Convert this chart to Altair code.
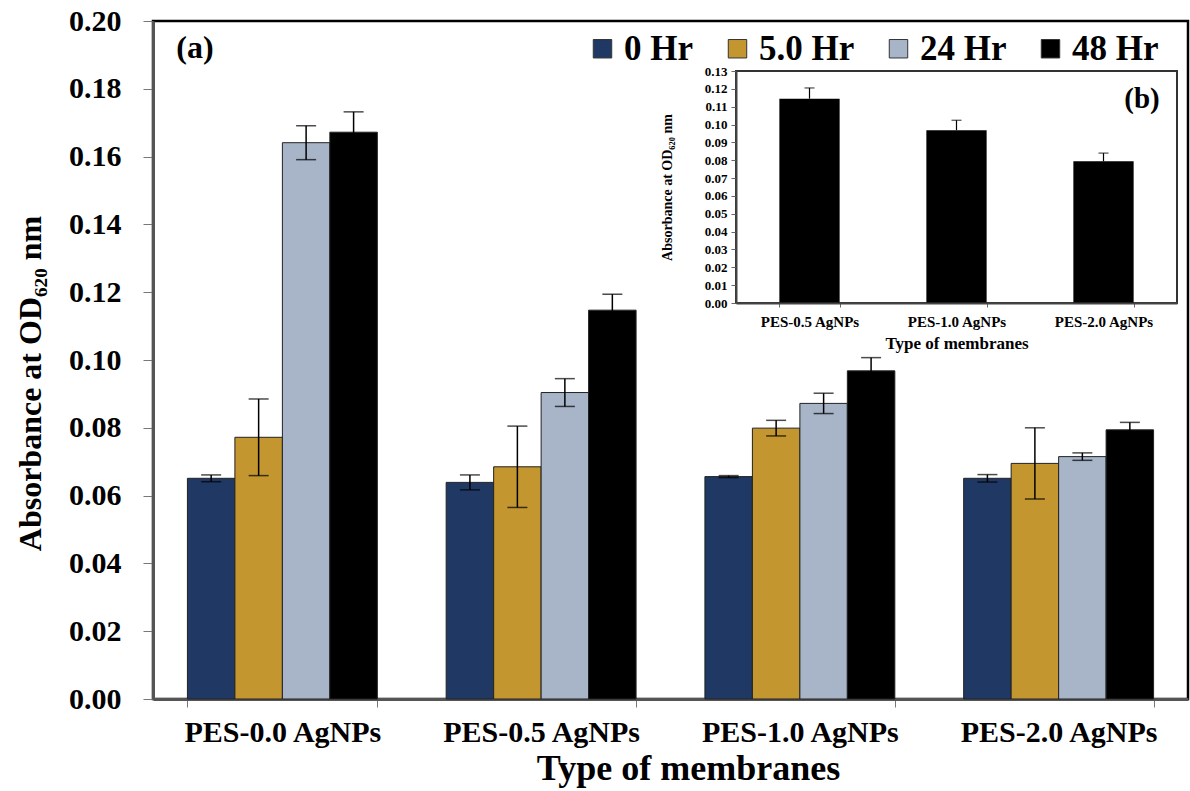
import altair as alt
import pandas as pd

FONT = "Liberation Serif"

# ---- main chart (a) data ----
groups = ["PES-0.0 AgNPs", "PES-0.5 AgNPs", "PES-1.0 AgNPs", "PES-2.0 AgNPs"]
times = ["0 Hr", "5.0 Hr", "24 Hr", "48 Hr"]
colors = ["#1f3864", "#c3962f", "#a8b4c8", "#000000"]

hr0 = [0.0651, 0.0639, 0.0656, 0.0651]
err0 = [0.0010, 0.0022, 0.0003, 0.0011]
hr5 = [0.0772, 0.0685, 0.0799, 0.0695]
err5 = [0.0113, 0.0120, 0.0023, 0.0105]
hr24 = [0.1641, 0.0904, 0.0872, 0.0715]
err24 = [0.0050, 0.0041, 0.0030, 0.0011]
hr48 = [0.1672, 0.1147, 0.0968, 0.0794]
err48 = [0.0060, 0.0047, 0.0039, 0.0022]

y_ticks = [0.00, 0.02, 0.04, 0.06, 0.08, 0.10, 0.12, 0.14, 0.16, 0.18, 0.20]

# ---- inset chart (b) data ----
cats_b = ["PES-0.5 AgNPs", "PES-1.0 AgNPs", "PES-2.0 AgNPs"]
vals_b = [0.1145, 0.0968, 0.0794]
errs_b = [0.0060, 0.0056, 0.0046]
y_ticks_b = [0.00, 0.01, 0.02, 0.03, 0.04, 0.05, 0.06, 0.07, 0.08, 0.09, 0.10, 0.11, 0.12, 0.13]

rows = []
for i, g in enumerate(groups):
    for t, vals, errs in zip(times, [hr0, hr5, hr24, hr48], [err0, err5, err24, err48]):
        rows.append(dict(membrane=g, time=t, value=vals[i],
                         lo=vals[i] - errs[i], hi=vals[i] + errs[i]))
df = pd.DataFrame(rows)

df_b = pd.DataFrame({"mem_b": cats_b, "val_b": vals_b,
                     "hi_b": [v + e for v, e in zip(vals_b, errs_b)]})

W, H = 1035, 678

x_axis = alt.Axis(title="Type of membranes", labelAngle=0, labelFontSize=30,
                  labelLimit=0, labelPadding=10, tickSize=8, tickBand="extent",
                  tickColor="#777", domainColor="#555", domainWidth=3, titleFontSize=36,
                  titleX=535, titleY=80, titleBaseline="alphabetic", titleAlign="center",
                  labelColor="black")
y_axis = alt.Axis(title="Absorbance at OD₆₂₀ nm", values=y_ticks, format=".2f",
                  labelFontSize=30, labelPadding=22, tickSize=10, tickColor="#777",
                  domainColor="#555", domainWidth=3, titleFontSize=32,
                  titleAngle=270, titleX=-123, titleY=362, titleAlign="center",
                  titleBaseline="middle", labelColor="black")

legend = alt.Legend(title=None, orient="none", legendX=432, legendY=10,
                    direction="horizontal", symbolType="square", symbolSize=340,
                    symbolStrokeColor="#333", symbolStrokeWidth=1,
                    labelFontSize=35, labelFont=FONT, labelFontWeight="bold",
                    labelOffset=4, columnPadding=26, labelColor="black")

x_scale = alt.Scale(domain=groups, paddingInner=0.266, paddingOuter=0.133)
y_scale = alt.Scale(domain=[0, 0.2], nice=False, zero=True)
xoff = alt.XOffset("time:N", sort=times,
                   scale=alt.Scale(domain=times, paddingInner=0, paddingOuter=0))


def mx():
    return alt.X("membrane:N", sort=groups, scale=x_scale, axis=x_axis)


def my(field):
    return alt.Y(field, scale=y_scale, axis=y_axis)


bars = alt.Chart(df).mark_bar(stroke="#222", strokeWidth=1).encode(
    x=mx(), xOffset=xoff, y=my("value:Q"),
    color=alt.Color("time:N", sort=times, scale=alt.Scale(domain=times, range=colors), legend=legend),
)
rules = alt.Chart(df).mark_rule(color="black", strokeWidth=1.5).encode(
    x=mx(), xOffset=xoff, y=my("lo:Q"), y2="hi:Q",
)
caps_lo = alt.Chart(df).mark_tick(color="black", thickness=1.5, size=20).encode(
    x=mx(), xOffset=xoff, y=my("lo:Q"),
)
caps_hi = alt.Chart(df).mark_tick(color="black", thickness=1.5, size=20).encode(
    x=mx(), xOffset=xoff, y=my("hi:Q"),
)
main = alt.layer(bars, rules, caps_lo, caps_hi)

# ---- inset ----
IX0, IX1, IY0, IY1 = 583, 1024, 50, 282
xb_axis = alt.Axis(orient="bottom", offset=-(H - IY1), title="Type of membranes",
                   labelAngle=0, labelFontSize=15, labelLimit=0, labelPadding=7, tickSize=4,
                   tickBand="extent", tickColor="#666", domainColor="#444", domainWidth=2,
                   titleFontSize=17, titleY=45, titleBaseline="alphabetic",
                   zindex=1, labelColor="black")
yb_axis = alt.Axis(orient="left", offset=-IX0, title="Absorbance at OD₆₂₀ nm",
                   values=y_ticks_b, format=".2f", labelFontSize=13, labelPadding=4,
                   tickSize=5, tickColor="#666", domainColor="#444", domainWidth=2,
                   titleFontSize=14, titleAngle=270, titleX=-69, titleY=(IY0 + IY1) / 2,
                   titleAlign="center", titleBaseline="middle", zindex=1, labelColor="black")

xb_scale = alt.Scale(domain=cats_b, range=[IX0, IX1], paddingInner=0.59, paddingOuter=0.295)
yb_scale = alt.Scale(domain=[0, 0.13], range=[IY1, IY0], nice=False, zero=True)


def bx():
    return alt.X("mem_b:N", sort=cats_b, scale=xb_scale, axis=xb_axis)


def by(field):
    return alt.Y(field, scale=yb_scale, axis=yb_axis)


frame = alt.Chart(pd.DataFrame({"k": [0]})).mark_rect(
    fill="white", stroke="#333", strokeWidth=2).encode(
    x=alt.value(IX0), x2=alt.value(IX1), y=alt.value(IY0), y2=alt.value(IY1))
ibars = alt.Chart(df_b).mark_bar(color="black").encode(x=bx(), y=by("val_b:Q"))
irules = alt.Chart(df_b).mark_rule(color="black", strokeWidth=1.2).encode(
    x=bx(), y=by("val_b:Q"), y2="hi_b:Q")
icaps = alt.Chart(df_b).mark_tick(color="black", thickness=1.2, size=10).encode(
    x=bx(), y=by("hi_b:Q"))
inset = alt.layer(frame, ibars, irules, icaps)

one = pd.DataFrame({"k": [0]})
text_a = alt.Chart(one).mark_text(text="(a)", font=FONT, fontWeight="bold", fontSize=32,
                                  color="black", align="center", baseline="middle").encode(
    x=alt.value(42), y=alt.value(27))
text_b = alt.Chart(one).mark_text(text="(b)", font=FONT, fontWeight="bold", fontSize=29,
                                  color="black", align="center", baseline="middle").encode(
    x=alt.value(989), y=alt.value(78))

chart = alt.layer(main, inset, text_a, text_b).resolve_scale(
    x="independent", y="independent"
).properties(
    width=W, height=H,
    padding={"left": 153, "top": 21, "right": 2, "bottom": 92},
    autosize=alt.AutoSizeParams(type="none"),
    background="white",
).configure_axis(
    labelFont=FONT, titleFont=FONT, labelFontWeight="bold", titleFontWeight="bold",
    grid=False, titleColor="black",
).configure_view(stroke="black", strokeWidth=2.5)

chart.save("out.html", embed_options={"renderer": "svg", "actions": False})
